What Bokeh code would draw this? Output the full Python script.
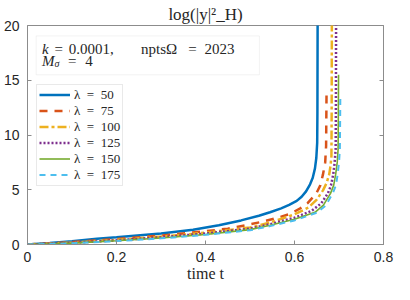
from bokeh.plotting import figure
from bokeh.models import (Range1d, FixedTicker, LinearAxis, Legend, LegendItem,
                          Label, BoxAnnotation)
from bokeh.embed import file_html
from bokeh.resources import INLINE

# ---------------- data ----------------
lambdas = [50, 75, 100, 125, 150, 175]

t_50 = [0, 0.05, 0.1, 0.156, 0.2, 0.3, 0.372, 0.43, 0.48, 0.52, 0.545, 0.57, 0.588,
        0.605, 0.616, 0.626, 0.635, 0.641, 0.646, 0.649, 0.651, 0.6515, 0.652]
v_50 = [0, 0.14, 0.3, 0.52, 0.66, 1.0, 1.35, 1.75, 2.2, 2.62, 2.95, 3.3, 3.62,
        3.98, 4.36, 4.85, 5.5, 6.1, 6.95, 7.9, 9.3, 12.0, 21.0]

t_75 = [0, 0.05, 0.1, 0.2, 0.3, 0.393, 0.45, 0.491, 0.53, 0.56, 0.59, 0.613, 0.63,
        0.649, 0.658, 0.664, 0.669, 0.671, 0.6715, 0.672]
v_75 = [0, 0.1, 0.22, 0.5, 0.82, 1.18, 1.45, 1.76, 2.1, 2.42, 2.8, 3.3, 3.8,
        4.67, 5.4, 6.4, 7.5, 9.0, 11.5, 13.85]

t_100 = [0, 0.05, 0.1, 0.2, 0.3, 0.4, 0.5, 0.545, 0.6, 0.631, 0.65, 0.664, 0.672,
         0.678, 0.681, 0.683, 0.6835, 0.684]
v_100 = [0, 0.08, 0.18, 0.42, 0.72, 1.08, 1.55, 2.0, 2.75, 3.37, 4.1, 4.94, 5.6,
         6.4, 7.2, 8.1, 12.0, 21.0]

t_125 = [0, 0.05, 0.1, 0.2, 0.3, 0.4, 0.5, 0.545, 0.6, 0.638, 0.66, 0.675, 0.682,
         0.687, 0.69, 0.6925, 0.693, 0.6935]
v_125 = [0, 0.07, 0.15, 0.38, 0.66, 1.0, 1.45, 1.85, 2.45, 3.06, 3.75, 4.67, 5.4,
         6.4, 7.4, 8.7, 12.0, 21.0]

t_150 = [0, 0.05, 0.1, 0.2, 0.3, 0.4, 0.5, 0.545, 0.6, 0.646, 0.665, 0.681, 0.688,
         0.6925, 0.696, 0.698, 0.6985, 0.699]
v_150 = [0, 0.06, 0.13, 0.34, 0.6, 0.92, 1.36, 1.75, 2.3, 2.94, 3.6, 4.67, 5.4,
         6.4, 7.5, 8.7, 11.5, 15.5]

t_175 = [0, 0.05, 0.1, 0.2, 0.3, 0.4, 0.5, 0.545, 0.6, 0.65, 0.67, 0.686, 0.693,
         0.697, 0.7, 0.702, 0.7025, 0.703]
v_175 = [0, 0.05, 0.11, 0.31, 0.56, 0.88, 1.3, 1.68, 2.2, 2.9, 3.55, 4.67, 5.4,
         6.4, 7.5, 8.7, 11.0, 13.6]

xticks = [0, 0.2, 0.4, 0.6, 0.8]
yticks = [0, 5, 10, 15, 20]

# ---------------- styles ----------------
series = [
    (t_50, v_50, "#0072BD", 2.5, "solid"),
    (t_75, v_75, "#D95319", 2.5, "8 7"),
    (t_100, v_100, "#EDB120", 2.5, "9 3 3 3"),
    (t_125, v_125, "#7E2F8E", 2.5, "2 2"),
    (t_150, v_150, "#77AC30", 1.6, "solid"),
    (t_175, v_175, "#4DBEEE", 2.0, "6 5"),
]

AX = "#8c8c8c"
TXT = "#262626"
SERIF = "Liberation Serif"

p = figure(width=394, height=284, output_backend="svg", toolbar_location=None,
           x_range=Range1d(0, 0.8), y_range=Range1d(0, 20),
           min_border_left=27, min_border_right=11, min_border_top=25,
           min_border_bottom=40, title="log(|y|²_H)")
p.title.text_font = SERIF
p.title.text_font_size = "17px"
p.title.text_font_style = "normal"
p.title.text_color = TXT
p.title.align = "center"
p.title.standoff = 3
p.background_fill_color = "white"
p.border_fill_color = "white"
p.xgrid.visible = False
p.ygrid.visible = False
p.outline_line_color = AX
p.outline_line_width = 1

for ax in (p.xaxis[0], p.yaxis[0]):
    ax.major_tick_in = 4
    ax.major_tick_out = 0
    ax.minor_tick_line_color = None
    ax.axis_line_color = AX
    ax.major_tick_line_color = AX
    ax.major_label_text_font = "Liberation Sans"
    ax.major_label_text_font_size = "14px"
    ax.major_label_text_color = TXT
p.xaxis.ticker = FixedTicker(ticks=xticks)
p.yaxis.ticker = FixedTicker(ticks=yticks)
p.xaxis.major_label_standoff = 7
p.yaxis.major_label_standoff = 8
p.xaxis.axis_label = "time t"
p.xaxis.axis_label_text_font = SERIF
p.xaxis.axis_label_text_font_style = "normal"
p.xaxis.axis_label_text_font_size = "16px"
p.xaxis.axis_label_text_color = TXT
p.xaxis.axis_label_standoff = 0

# tick marks on the right edge (box on), no labels drawn
ra = LinearAxis(ticker=FixedTicker(ticks=yticks), major_label_text_color=None,
                major_label_text_font_size="1px",
                major_tick_in=4, major_tick_out=0, minor_tick_line_color=None,
                axis_line_color=AX, major_tick_line_color=AX, major_label_standoff=0)
p.add_layout(ra, "right")

items = []
for lam, (t, v, c, w, d) in zip(lambdas, series):
    r = p.line(t, v, line_color=c, line_width=w, line_dash=d)
    items.append(LegendItem(label="λ\u2002=\u2002%d" % lam, renderers=[r]))

leg = Legend(items=items, location="left", margin=9, padding=2, spacing=0,
             label_height=15, glyph_height=15, glyph_width=31, label_standoff=4,
             label_text_font=SERIF, label_text_font_size="13px",
             label_text_color=TXT, border_line_color="#d4d4d4",
             background_fill_color="white", background_fill_alpha=1)
p.add_layout(leg)

# ---------------- annotation text (positions from reference pixels) ----------------
FL, FR, FT, FB = 28.0, 398.0, 26.0, 257.0
def tx(px):
    return (px - FL) / (FR - FL) * 0.8
def vy(py):
    return (FB - py) / (FB - FT) * 20

p.add_layout(BoxAnnotation(left=tx(37), right=tx(269), top=vy(37), bottom=vy(78),
                           fill_color="white", fill_alpha=1,
                           line_color="#d4d4d4", line_width=1))

def lab(text, px, py, size=15, style="normal"):
    p.add_layout(Label(x=tx(px), y=vy(py), text=text, text_font=SERIF,
                       text_font_size="%dpx" % size, text_font_style=style,
                       text_color=TXT, text_baseline="alphabetic", text_align="left"))

# line 1
lab("k", 43, 51, 15, "italic")
lab("=", 56, 51)
lab("0.0001,", 71, 51)
lab("nptsΩ", 146, 51)
lab("=", 195, 51)
lab("2023", 212, 51)
# line 2
lab("M", 43, 63, 15, "italic")
lab("σ", 56, 66, 10, "italic")
lab("=", 70, 63)
lab("4", 88, 63)

open("out.html", "w").write(file_html(p, INLINE))
